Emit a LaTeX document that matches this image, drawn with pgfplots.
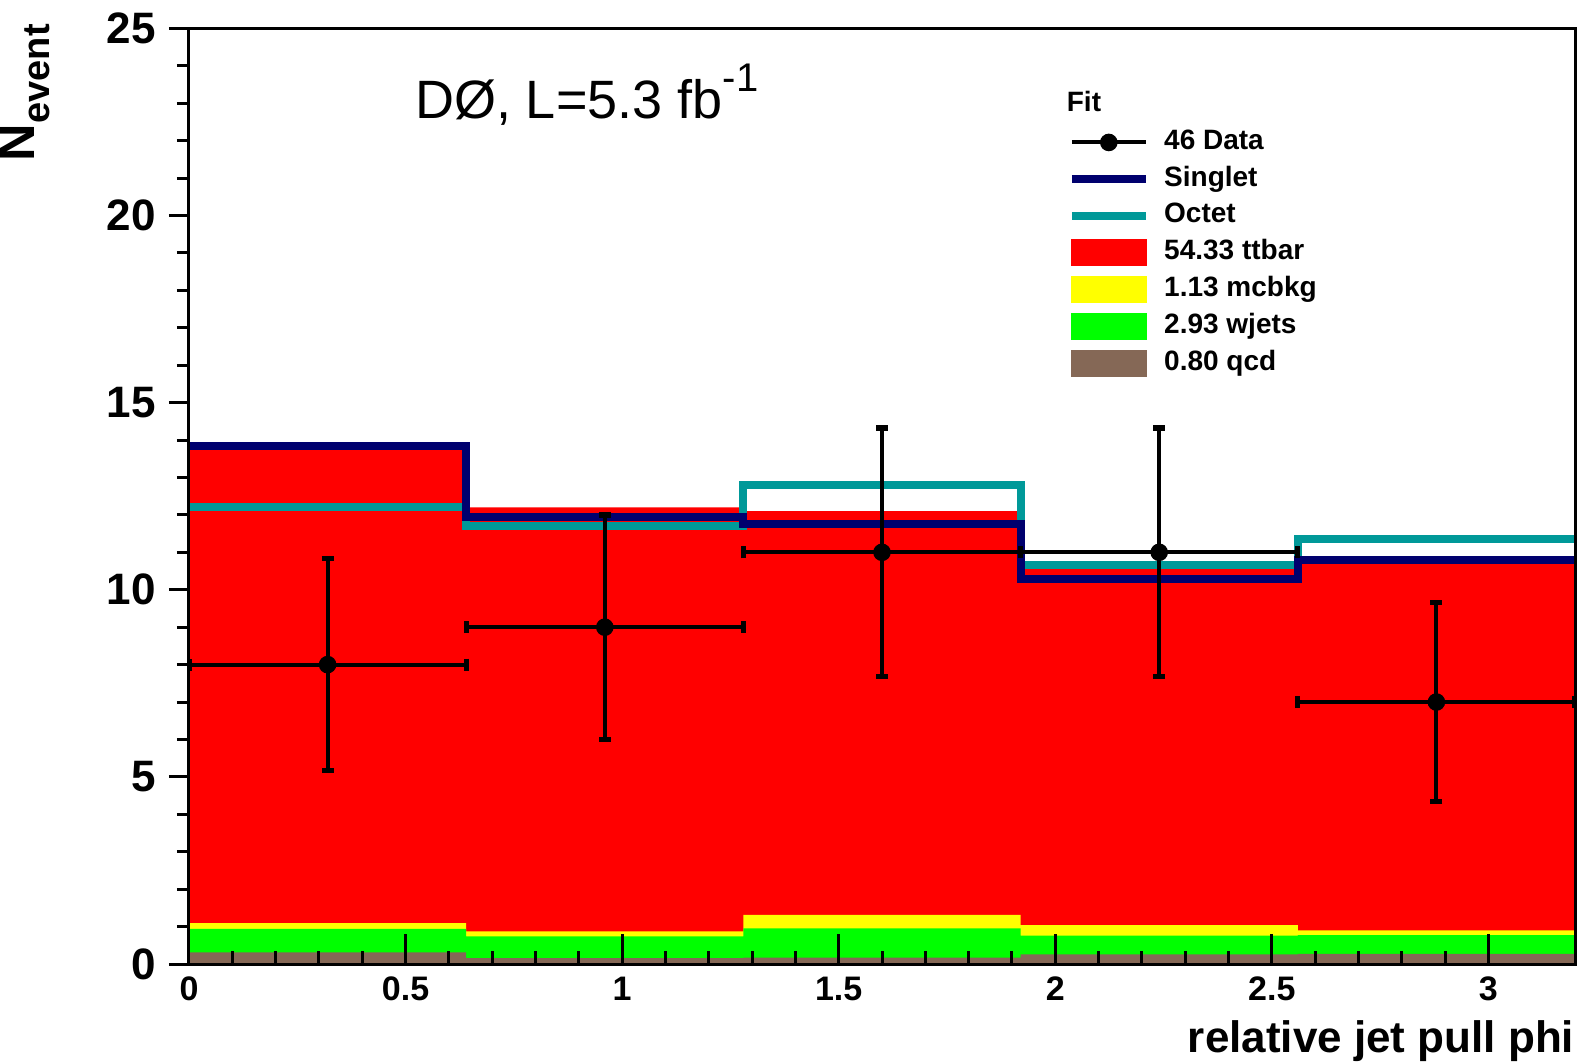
\documentclass[border=0pt]{standalone}
\usepackage{fontspec}
\setmainfont{Liberation Sans}
\usepackage{pgfplots}
\pgfplotsset{compat=1.18}
\definecolor{rbrown}{RGB}{133,104,86}
\definecolor{rnavy}{RGB}{0,0,110}
\definecolor{rteal}{RGB}{0,153,153}
\definecolor{rgreen}{RGB}{0,255,0}
\definecolor{ryellow}{RGB}{255,255,0}
\definecolor{rred}{RGB}{255,0,0}
\begin{document}
\begin{tikzpicture}
\begin{axis}[
  scale only axis, width=346.5pt, height=233.9pt,
  xmin=0, xmax=3.2, ymin=0, ymax=25,
  axis on top,
  axis line style={black, line width=0.75pt},
  xtick={0,0.5,1,1.5,2,2.5,3}, xticklabels={0,0.5,1,1.5,2,2.5,3},
  minor x tick num=4,
  ytick={0,5,10,15,20,25}, yticklabels={0,5,10,15,20,25},
  minor y tick num=4,
  xtick pos=bottom, ytick pos=left,
  xtick align=inside, ytick align=outside,
  tick style={black, line width=0.75pt},
  xtick style={/pgfplots/major tick length=7.5pt, /pgfplots/minor tick length=3.3pt},
  ytick style={/pgfplots/major tick length=5pt, /pgfplots/minor tick length=3pt},
  /pgf/number format/assume math mode=true,
  yticklabel style={font=\bfseries\fontsize{11}{13}\selectfont, inner sep=0pt, anchor=east, xshift=-3.8pt},
  xticklabel style={font=\bfseries\fontsize{8.5}{10}\selectfont, inner sep=0pt, anchor=north, yshift=-3pt},
  legend style={at={(axis cs:2.029,22.3)}, anchor=north west, draw=none, fill=none,
    inner sep=0pt, outer sep=0pt, row sep=2.65pt, column sep=3.6pt,
    font=\bfseries\fontsize{7}{8}\selectfont,
    nodes={inner sep=0pt, text height=5pt, text depth=1.5pt}},
  legend cell align=left,
]
% stacked backgrounds (cumulative heights)
\addplot[const plot, fill=rred, draw=none, forget plot] coordinates
  {(0,13.75) (0.64,12.20) (1.28,12.10) (1.92,10.55) (2.56,10.70) (3.2,10.70)} \closedcycle;
\addplot[const plot, fill=ryellow, draw=none, forget plot] coordinates
  {(0,1.09) (0.64,0.875) (1.28,1.31) (1.92,1.04) (2.56,0.90) (3.2,0.90)} \closedcycle;
\addplot[const plot, fill=rgreen, draw=none, forget plot] coordinates
  {(0,0.94) (0.64,0.74) (1.28,0.95) (1.92,0.76) (2.56,0.77) (3.2,0.77)} \closedcycle;
\addplot[const plot, fill=rbrown, draw=none, forget plot] coordinates
  {(0,0.31) (0.64,0.16) (1.28,0.17) (1.92,0.26) (2.56,0.27) (3.2,0.27)} \closedcycle;
% octet
\addplot[const plot, rteal, line width=2pt, forget plot] coordinates
  {(0,12.20) (0.64,11.70) (1.28,12.80) (1.92,10.67) (2.56,11.35) (3.2,11.35)};
% singlet
\addplot[const plot, rnavy, line width=2pt, forget plot] coordinates
  {(0,13.85) (0.64,11.95) (1.28,11.76) (1.92,10.30) (2.56,10.79) (3.2,10.79)};
% data
\addplot[only marks, mark=*, mark size=2pt, black, forget plot,
  error bars/.cd, x dir=both, x explicit, y dir=both, y explicit,
  error mark=|,
  error bar style={line width=1pt, black},
  error mark options={line width=1.3pt, mark size=1.5pt, black}]
  coordinates {
  (0.32,8) +- (0.32,2.83)
  (0.96,9) +- (0.32,3.0)
  (1.60,11) +- (0.32,3.32)
  (2.24,11) +- (0.32,3.32)
  (2.88,7) +- (0.32,2.65)
  };
\addlegendimage{legend image code/.code={\draw[black, line width=1pt] (0pt,0pt) -- (18.5pt,0pt); \fill[black] (9.25pt,0pt) circle (2pt);}}
\addlegendentry{46 Data}
\addlegendimage{legend image code/.code={\draw[rnavy, line width=2pt] (0pt,0pt) -- (18.5pt,0pt);}}
\addlegendentry{Singlet}
\addlegendimage{legend image code/.code={\draw[rteal, line width=2pt] (0pt,0pt) -- (18.5pt,0pt);}}
\addlegendentry{Octet}
\addlegendimage{legend image code/.code={\fill[rred] (0pt,-3.1pt) rectangle (18.5pt,3.1pt);}}
\addlegendentry{54.33 ttbar}
\addlegendimage{legend image code/.code={\fill[ryellow] (0pt,-3.1pt) rectangle (18.5pt,3.1pt);}}
\addlegendentry{1.13 mcbkg}
\addlegendimage{legend image code/.code={\fill[rgreen] (0pt,-3.1pt) rectangle (18.5pt,3.1pt);}}
\addlegendentry{2.93 wjets}
\addlegendimage{legend image code/.code={\fill[rbrown] (0pt,-3.1pt) rectangle (18.5pt,3.1pt);}}
\addlegendentry{0.80 qcd}
\node[anchor=base west, inner sep=0pt, font=\bfseries\fontsize{7}{8}\selectfont] at (axis cs:2.025,22.78) {Fit};
\node[anchor=base west, inner sep=0pt, font=\fontsize{13.5}{15}\selectfont] at (axis cs:0.52,22.6) {DØ, L=5.3 fb\raisebox{0.5em}{\fontsize{10}{11}\selectfont -1}};
\end{axis}
\node[anchor=base east, inner sep=0pt, font=\bfseries\fontsize{11}{13}\selectfont] at (346.5pt,-22pt) {relative jet pull phi};
\node[rotate=90, anchor=base east, inner sep=0pt, font=\bfseries\fontsize{13}{15}\selectfont] at (-38.5pt,235.15pt) {N\raisebox{-3.75pt}{\fontsize{9.5}{11}\selectfont event}};
\pgfresetboundingbox
\useasboundingbox (-47.25pt,-24.25pt) rectangle (349.25pt,241pt);
\end{tikzpicture}
\end{document}
